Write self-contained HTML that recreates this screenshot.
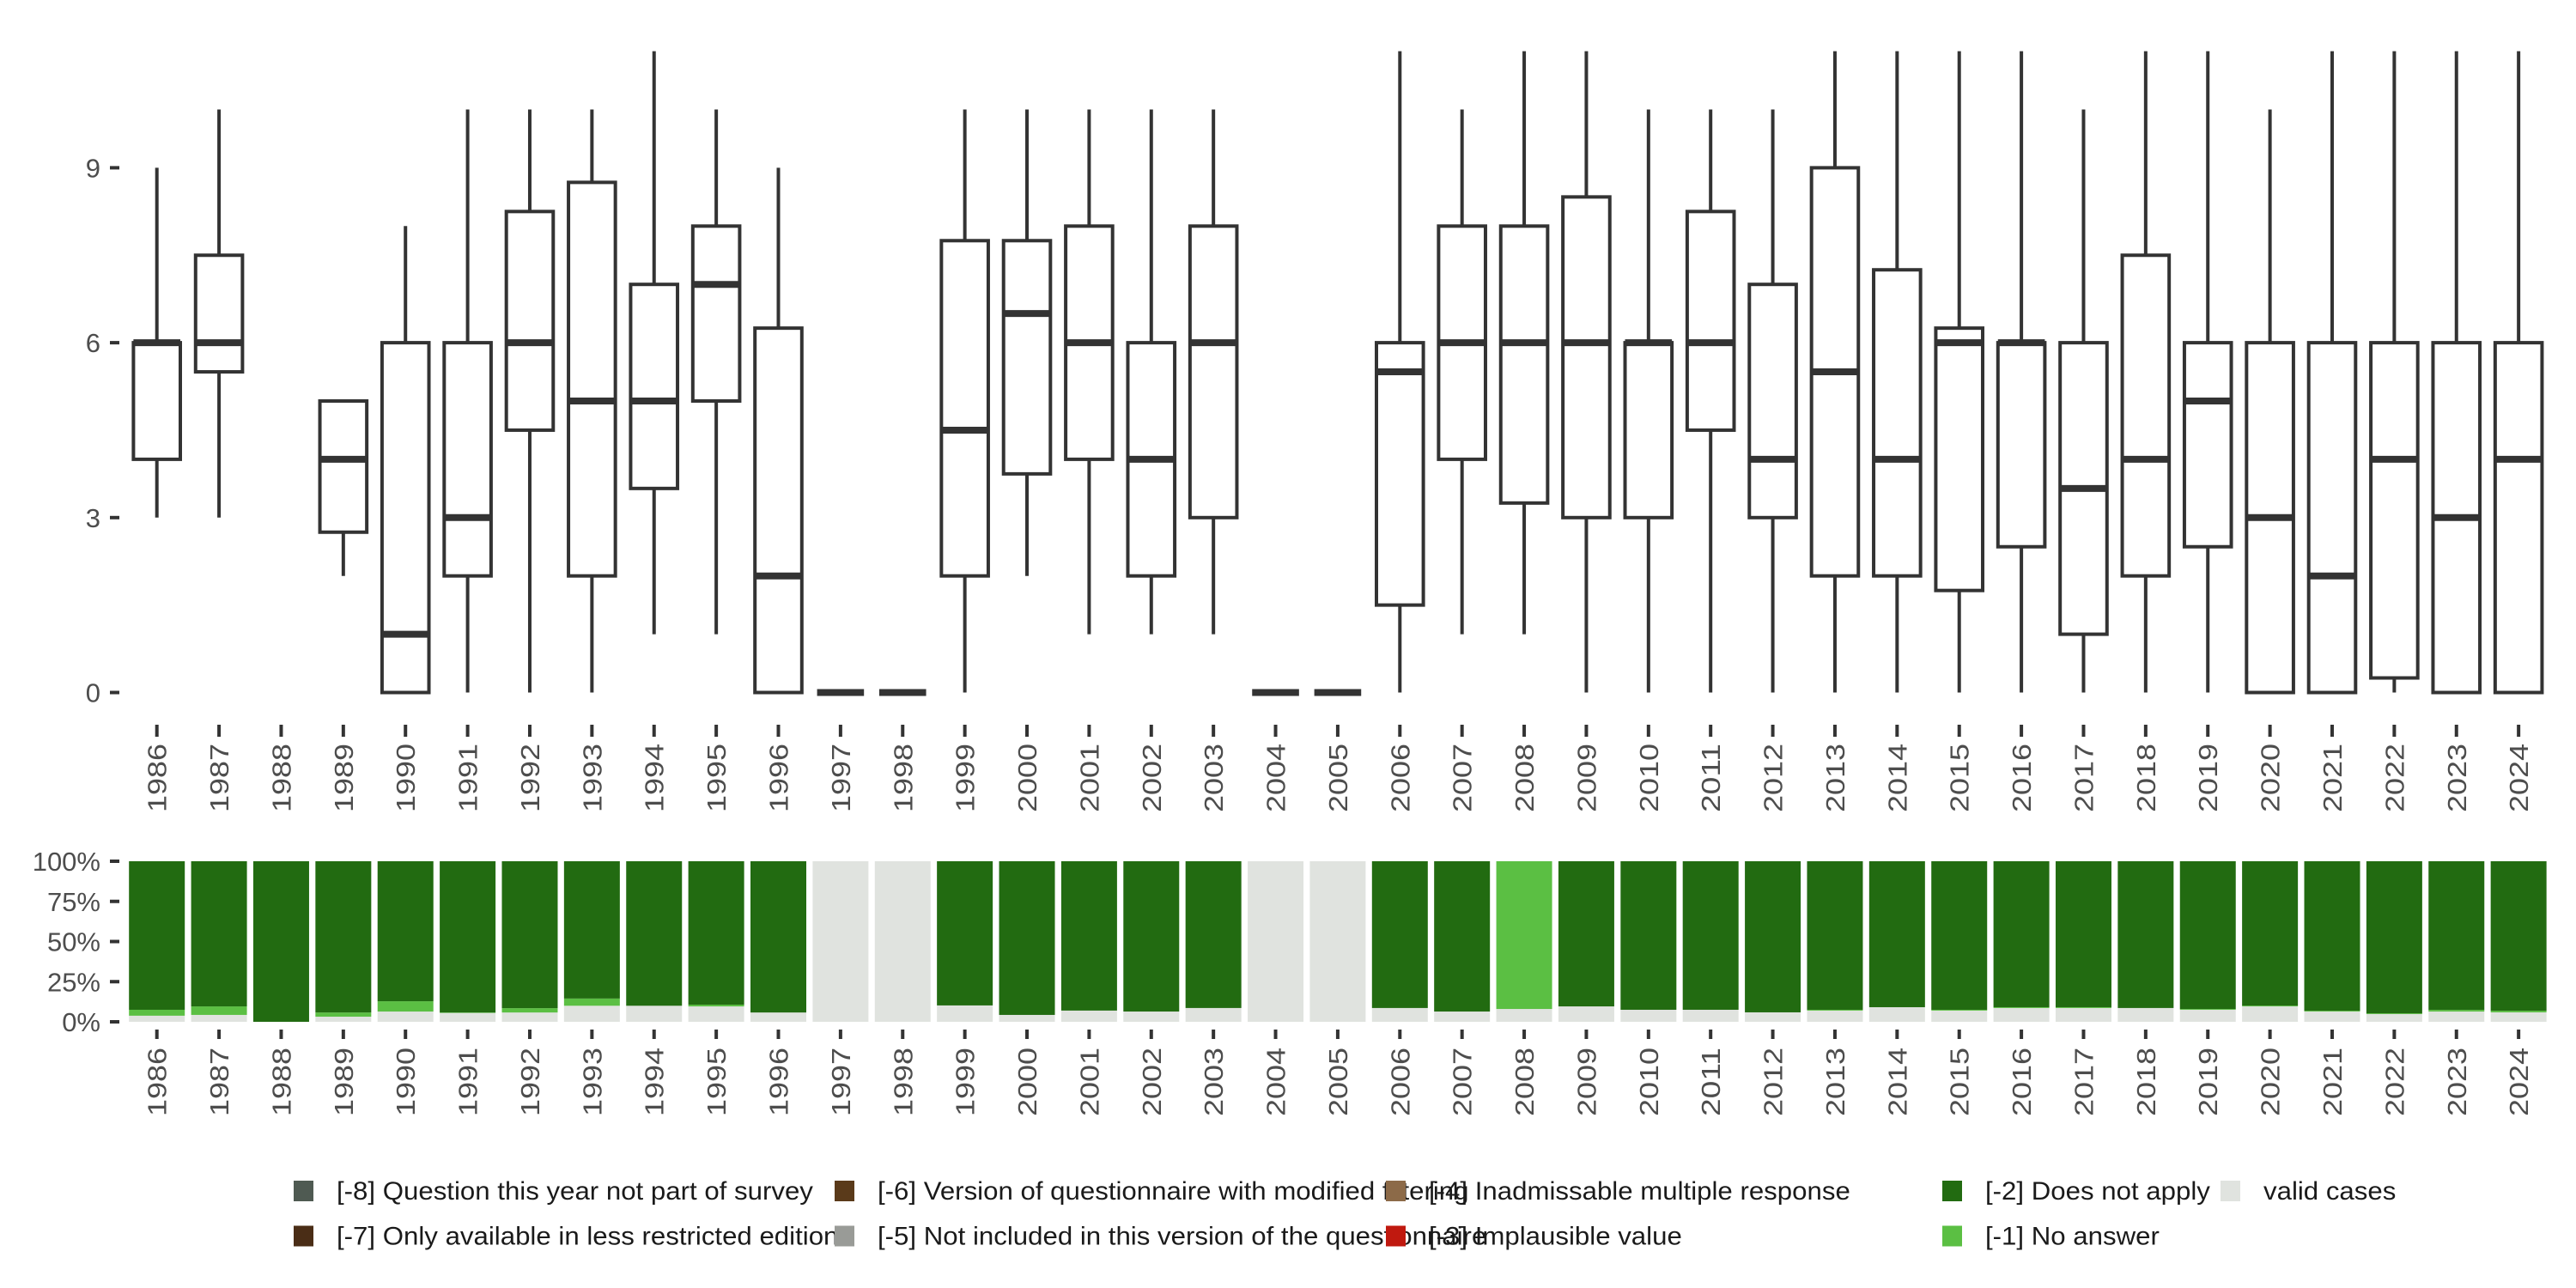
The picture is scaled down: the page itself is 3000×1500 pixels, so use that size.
<!DOCTYPE html>
<html><head><meta charset="utf-8"><style>
html,body{margin:0;padding:0;background:#fff;}
svg{display:block;font-family:"Liberation Sans",sans-serif;}
</style></head><body>
<svg id="chart" width="3000" height="1500" viewBox="0 0 3000 1500" xmlns="http://www.w3.org/2000/svg">
<g id="topPanel"></g>
<g id="bottomPanel"></g>
<g id="legendPanel"></g>
</svg>
<script>
const years = [1986,1987,1988,1989,1990,1991,1992,1993,1994,1995,1996,1997,1998,1999,2000,2001,2002,2003,2004,2005,2006,2007,2008,2009,2010,2011,2012,2013,2014,2015,2016,2017,2018,2019,2020,2021,2022,2023,2024];
const whiskerLow = [3,3,null,2,0,0,0,0,1,1,0,0,0,0,2,1,1,1,0,0,0,1,1,0,0,0,0,0,0,0,0,0,0,0,0,0,0,0,0];
const q1Values =   [4,5.5,null,2.75,0,2,4.5,2,3.5,5,0,0,0,2,3.75,4,2,3,0,0,1.5,4,3.25,3,3,4.5,3,2,2,1.75,2.5,1,2,2.5,0,0,0.25,0,0];
const medianValues=[6,6,null,4,1,3,6,5,5,7,2,0,0,4.5,6.5,6,4,6,0,0,5.5,6,6,6,6,6,4,5.5,4,6,6,3.5,4,5,3,2,4,3,4];
const q3Values =   [6,7.5,null,5,6,6,8.25,8.75,7,8,6.25,0,0,7.75,7.75,8,6,8,0,0,6,8,8,8.5,6,8.25,7,9,7.25,6.25,6,6,7.5,6,6,6,6,6,6];
const whiskerHigh =[9,10,null,5,8,10,10,10,11,10,9,0,0,10,10,10,10,10,0,0,11,10,11,11,10,10,10,11,11,11,11,10,11,11,10,11,11,11,11];
const yTicks = [0,3,6,9];
const validPct =   [3.8,4.3,0,3.2,6.4,5.5,5.8,10,10,9.6,5.8,100,100,10.2,4.3,7,6.4,8.6,100,100,8.6,6.4,8,9.6,7.5,7.5,5.9,7,9.1,7,8.6,8.6,8.6,7.5,9.6,6.4,4.8,6.4,5.9];
const noAnswerPct =[3.7,5.3,0,2.6,6.4,0.3,2.7,4.5,0,1.1,0,0,0,0,0,0,0,0,0,0,0,0,92,0,0,0,0,0.5,0,0.5,0.5,0.5,0,0.5,0.5,0.5,0.5,1,1];
const pctTicks = [0,25,50,75,100];

const NS="http://www.w3.org/2000/svg";
function mk(parent,tag,attrs,text){const e=document.createElementNS(NS,tag);for(const k in attrs)e.setAttribute(k,attrs[k]);if(text!==undefined)e.textContent=text;parent.appendChild(e);return e;}
const xPos = i => 182.7 + i*72.38;
const yTop = v => 806.5 - v*67.9;
const yBot = p => 1190 - p*1.87;
const dark="#333333", txt="#4d4d4d";

const gTop=document.getElementById('topPanel');
yTicks.forEach(t=>{
  const l=mk(gTop,'line',{x1:128,x2:139,y1:yTop(t),y2:yTop(t),stroke:dark,'stroke-width':4});
  
  
  const tx=mk(gTop,'text',{x:117,y:yTop(t)+11,'text-anchor':'end','font-size':31,fill:txt},String(t));
  
  
});
years.forEach((yr,i)=>{
  const x=xPos(i);
  const tk=mk(gTop,'line',{x1:x,x2:x,y1:844,y2:858,stroke:dark,'stroke-width':4});
  
  
  const lb=mk(gTop,'text',{x:0,y:0,transform:`translate(${x+11},866) rotate(-90)`,'text-anchor':'end','font-size':31,fill:txt,textLength:80,lengthAdjust:'spacingAndGlyphs'},String(yr));
  
  
  if(medianValues[i]===null) return;
  const g=mk(gTop,'g',{});
  
  
  const w=54.6;
  mk(g,'line',{x1:x,x2:x,y1:yTop(whiskerHigh[i]),y2:yTop(q3Values[i]),stroke:dark,'stroke-width':4});
  mk(g,'line',{x1:x,x2:x,y1:yTop(q1Values[i]),y2:yTop(whiskerLow[i]),stroke:dark,'stroke-width':4});
  mk(g,'rect',{x:x-w/2,y:yTop(q3Values[i]),width:w,height:Math.max(0,yTop(q1Values[i])-yTop(q3Values[i])),fill:'#fff',stroke:dark,'stroke-width':4});
  mk(g,'line',{x1:x-w/2,x2:x+w/2,y1:yTop(medianValues[i]),y2:yTop(medianValues[i]),stroke:dark,'stroke-width':8});
});

const gBot=document.getElementById('bottomPanel');
pctTicks.forEach(t=>{
  const l=mk(gBot,'line',{x1:128,x2:139,y1:yBot(t),y2:yBot(t),stroke:dark,'stroke-width':4});
  
  
  const tx=mk(gBot,'text',{x:117,y:yBot(t)+11,'text-anchor':'end','font-size':31,fill:txt},t+'%');
  
  
});
years.forEach((yr,i)=>{
  const x=xPos(i), w=65;
  const g=mk(gBot,'g',{});
  
  
  const v=validPct[i], na=noAnswerPct[i];
  mk(g,'rect',{x:x-w/2,y:yBot(v),width:w,height:yBot(0)-yBot(v),fill:'#e0e3df'});
  mk(g,'rect',{x:x-w/2,y:yBot(v+na),width:w,height:yBot(v)-yBot(v+na),fill:'#5bbf43'});
  mk(g,'rect',{x:x-w/2,y:yBot(100),width:w,height:Math.max(0,yBot(v+na)-yBot(100)),fill:'#226b11'});
  const tk=mk(gBot,'line',{x1:x,x2:x,y1:1199,y2:1210,stroke:dark,'stroke-width':4});
  
  
  const lb=mk(gBot,'text',{x:0,y:0,transform:`translate(${x+11},1220) rotate(-90)`,'text-anchor':'end','font-size':31,fill:txt,textLength:80,lengthAdjust:'spacingAndGlyphs'},String(yr));
  
  
});

const legendLabels=["[-8] Question this year not part of survey","[-7] Only available in less restricted edition","[-6] Version of questionnaire with modified filtering","[-5] Not included in this version of the questionnaire","[-4] Inadmissable multiple response","[-3] Implausible value","[-2] Does not apply","[-1] No answer","valid cases"];
const legendColors=["#4f5a52","#4a2d16","#5a3a1a","#999b97","#8c6a48","#c0190f","#226b11","#5bbf43","#e0e3df"];
const colX=[342,972,1614,2262,2586];
const gLeg=document.getElementById('legendPanel');
legendLabels.forEach((lab,k)=>{
  const col=Math.floor(k/2), row=k%2;
  const x=colX[col], yc=row?1439.5:1387;
  const g=mk(gLeg,'g',{});
  
  
  mk(g,'rect',{x:x,y:yc-12,width:23,height:24,fill:legendColors[k]});
  const t=mk(g,'text',{x:x+50,y:yc+10,'font-size':30,fill:'#1a1a1a'},lab);
  try{const L=t.getComputedTextLength();t.setAttribute('textLength',(L*1.04).toFixed(1));t.setAttribute('lengthAdjust','spacingAndGlyphs');}catch(e){}
});
</script>
</body></html>
